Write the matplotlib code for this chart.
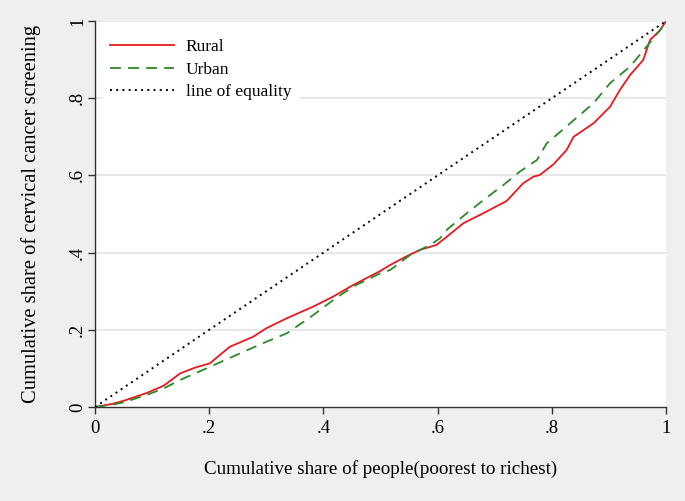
import numpy as np
import matplotlib.pyplot as plt

# concentration curves
rural_x = [0, 0.03, 0.05, 0.09, 0.12, 0.149, 0.175, 0.201, 0.236, 0.277, 0.30, 0.336,
           0.382, 0.417, 0.452, 0.499, 0.517, 0.545, 0.569, 0.598, 0.616, 0.645, 0.68,
           0.721, 0.75, 0.768, 0.779, 0.803, 0.826, 0.838, 0.873, 0.902, 0.919, 0.937,
           0.96, 0.972, 0.99, 1.0]
rural_y = [0, 0.008, 0.016, 0.036, 0.055, 0.087, 0.102, 0.113, 0.156, 0.182, 0.204, 0.23,
           0.26, 0.286, 0.316, 0.352, 0.368, 0.39, 0.407, 0.42, 0.441, 0.476, 0.502,
           0.534, 0.58, 0.597, 0.601, 0.629, 0.666, 0.70, 0.735, 0.778, 0.821, 0.86,
           0.899, 0.951, 0.977, 1.0]

urban_x = [0, 0.03, 0.05, 0.09, 0.12, 0.149, 0.201, 0.254, 0.30, 0.336, 0.382, 0.417,
           0.452, 0.499, 0.517, 0.552, 0.587, 0.604, 0.616, 0.651, 0.68, 0.715, 0.744,
           0.774, 0.791, 0.832, 0.873, 0.902, 0.937, 0.966, 0.99, 1.0]
urban_y = [0, 0.006, 0.012, 0.031, 0.048, 0.07, 0.104, 0.139, 0.169, 0.191, 0.238, 0.277,
           0.312, 0.346, 0.355, 0.394, 0.42, 0.437, 0.459, 0.502, 0.536, 0.575, 0.610,
           0.64, 0.683, 0.735, 0.787, 0.839, 0.882, 0.934, 0.977, 1.0]

equality = [0, 1]

ticks = [0, 0.2, 0.4, 0.6, 0.8, 1]
tick_labels = ["0", ".2", ".4", ".6", ".8", "1"]

plt.rcParams['font.family'] = ['Liberation Serif', 'DejaVu Serif']

fig = plt.figure(figsize=(6.85, 5.01), dpi=100, facecolor='#efefef')
ax = fig.add_axes([0.1387, 0.1876, 0.8336, 0.7704])
ax.set_facecolor('white')

for t in ticks[1:]:
    ax.axhline(t, color='#e4e4e4', lw=1.2, zorder=0)

ax.plot(rural_x, rural_y, color='#e8191e', lw=1.3, label='Rural', zorder=3)
ax.plot(urban_x, urban_y, color='#2a8a2a', lw=1.3, ls=(0, (6, 4)), label='Urban', zorder=3)
ax.plot(equality, equality, color='black', lw=1.4, ls=(0, (1, 2.2)),
        label='line of equality', zorder=3)

ax.set_xlim(0, 1)
ax.set_ylim(0, 1)
ax.set_xticks(ticks)
ax.set_xticklabels(tick_labels, fontsize=13.5)
ax.set_yticks(ticks)
ax.set_yticklabels(tick_labels, fontsize=13.5, rotation=90, va='center')
ax.tick_params(direction='out', length=5, width=1, color='#333333')
ax.tick_params(axis='x', pad=4)
ax.tick_params(axis='y', pad=1.5)

for s in ['top', 'right']:
    ax.spines[s].set_visible(False)
for s in ['left', 'bottom']:
    ax.spines[s].set_color('#333333')
    ax.spines[s].set_linewidth(1)

ax.set_xlabel('Cumulative share of people(poorest to richest)', fontsize=13.7, labelpad=17)
ax.set_ylabel('Cumulative share of cervical cancer screening', fontsize=14.8, labelpad=20)

leg = ax.legend(loc='upper left', fontsize=12.5, frameon=True, fancybox=False,
                edgecolor='white', facecolor='white', framealpha=1,
                handlelength=3.7, handletextpad=0.65, labelspacing=0.38,
                borderaxespad=0.4, bbox_to_anchor=(0.002, 0.99))

fig.savefig('out.png', dpi=100, facecolor=fig.get_facecolor())
